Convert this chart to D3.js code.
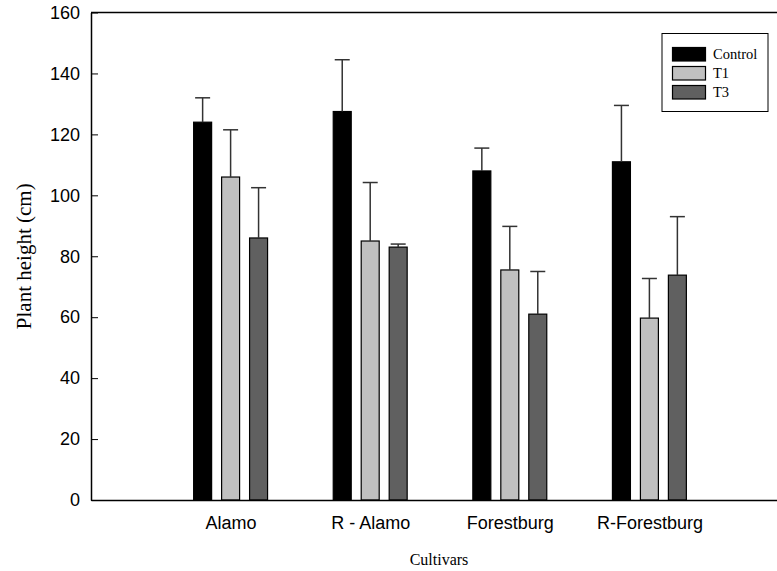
<!DOCTYPE html>
<html>
<head>
<meta charset="utf-8">
<script src="https://cdn.jsdelivr.net/npm/d3@7"></script>
<style>
  html, body { margin: 0; padding: 0; background: #fff; }
  svg { display: block; }
</style>
</head>
<body>
<svg id="chart" width="777" height="571"></svg>
<script>
// Cultivars on the x axis and treatments within each group
const cultivars = ["Alamo", "R - Alamo", "Forestburg", "R-Forestburg"];
const treatments = ["Control", "T1", "T3"];

// Mean plant height (cm) per treatment, one value per cultivar
const controlMeans = [124, 127.5, 108, 111];
const t1Means = [106, 85, 75.5, 59.7];
const t3Means = [86, 83, 61, 73.8];

// Standard error shown above each bar
const controlErr = [8, 17, 7.5, 18.5];
const t1Err = [15.5, 19.2, 14.3, 13];
const t3Err = [16.5, 1, 14, 19.2];

const yTicks = [0, 20, 40, 60, 80, 100, 120, 140, 160];

const fills = { Control: "#000000", T1: "#c0c0c0", T3: "#606060" };

const seriesMeans = { Control: controlMeans, T1: t1Means, T3: t3Means };
const seriesErr = { Control: controlErr, T1: t1Err, T3: t3Err };

const rows = [];
cultivars.forEach((c, i) => {
  treatments.forEach(t => {
    rows.push({ cultivar: c, idx: i, treatment: t, mean: seriesMeans[t][i], err: seriesErr[t][i] });
  });
});

const svg = d3.select("#chart");
const plotLeft = 91, plotRight = 777, plotTop = 12.5, plotBottom = 500;

const y = d3.scaleLinear().domain([0, 160]).range([plotBottom, plotTop]);
// groups sit at positions 1..4 along a continuous cultivar axis
const x = d3.scaleLinear().domain([0, 4.914]).range([plotLeft, plotRight]);
const inner = d3.scaleBand().domain(treatments).range([-42, 42]).paddingInner(10 / 28).paddingOuter(0.18);

// top frame line
svg.append("line")
  .attr("x1", plotLeft).attr("x2", plotRight)
  .attr("y1", plotTop).attr("y2", plotTop)
  .attr("stroke", "#000").attr("stroke-width", 1.5);

// bars
svg.append("g").selectAll("rect")
  .data(rows)
  .join("rect")
  .attr("x", d => x(d.idx + 1) + inner(d.treatment))
  .attr("width", inner.bandwidth())
  .attr("y", d => y(d.mean))
  .attr("height", d => y(0) - y(d.mean))
  .attr("fill", d => fills[d.treatment])
  .attr("stroke", "#000")
  .attr("stroke-width", 1.2);

// error bars (upper half only)
const eb = svg.append("g").attr("stroke", "#333").attr("stroke-width", 1.5);
rows.forEach(d => {
  const cx = x(d.idx + 1) + inner(d.treatment) + inner.bandwidth() / 2;
  eb.append("line")
    .attr("x1", cx).attr("x2", cx)
    .attr("y1", y(d.mean)).attr("y2", y(d.mean + d.err));
  eb.append("line")
    .attr("x1", cx - 7.5).attr("x2", cx + 7.5)
    .attr("y1", y(d.mean + d.err)).attr("y2", y(d.mean + d.err));
});

// y axis with inward ticks
const yAxis = svg.append("g")
  .attr("transform", `translate(${plotLeft},0)`)
  .call(d3.axisLeft(y).tickValues(yTicks).tickSizeInner(-7).tickSizeOuter(0).tickPadding(11));
yAxis.select(".domain").attr("stroke-width", 1.5);
yAxis.selectAll(".tick line").attr("stroke-width", 1);
yAxis.selectAll("text")
  .attr("font-family", "'Liberation Sans', Arial, sans-serif")
  .attr("font-size", 18)
  .attr("fill", "#000");

// x axis: baseline and cultivar names
const xAxis = svg.append("g")
  .attr("transform", `translate(0,${plotBottom})`)
  .call(d3.axisBottom(x).tickValues([1, 2, 3, 4]).tickFormat(i => cultivars[i - 1]).tickSize(0).tickPadding(16));
xAxis.select(".domain").attr("stroke-width", 1.5);
xAxis.selectAll("text")
  .attr("font-family", "'Liberation Sans', Arial, sans-serif")
  .attr("font-size", 18)
  .attr("fill", "#000");

// axis titles
svg.append("text")
  .attr("transform", `translate(31,${(plotTop + plotBottom) / 2}) rotate(-90)`)
  .attr("text-anchor", "middle")
  .attr("font-family", "'Liberation Serif', 'Times New Roman', serif")
  .attr("font-size", 21)
  .text("Plant height (cm)");

svg.append("text")
  .attr("x", 439).attr("y", 565)
  .attr("text-anchor", "middle")
  .attr("font-family", "'Liberation Serif', 'Times New Roman', serif")
  .attr("font-size", 16)
  .text("Cultivars");

// legend
const lg = svg.append("g");
lg.append("rect")
  .attr("x", 662).attr("y", 33.5).attr("width", 106).attr("height", 78)
  .attr("fill", "#fff").attr("stroke", "#000").attr("stroke-width", 1);
treatments.forEach((t, i) => {
  const yy = 47.5 + i * 19;
  lg.append("rect")
    .attr("x", 672.5).attr("y", yy).attr("width", 33).attr("height", 13.5)
    .attr("fill", fills[t]).attr("stroke", "#000").attr("stroke-width", 1.2);
  lg.append("text")
    .attr("x", 713).attr("y", yy + 11.5)
    .attr("font-family", "'Liberation Serif', 'Times New Roman', serif")
    .attr("font-size", 14.5)
    .text(t);
});
</script>
</body>
</html>
